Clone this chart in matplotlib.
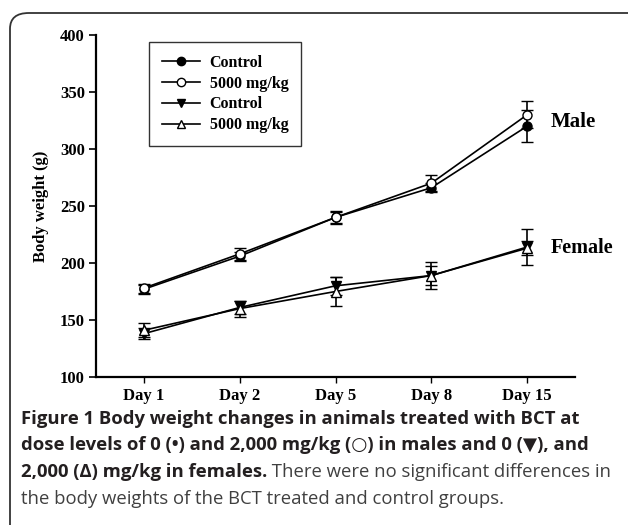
import matplotlib
matplotlib.use('Agg')
import matplotlib.pyplot as plt
from matplotlib.patches import FancyBboxPatch
from matplotlib.lines import Line2D

# data
days = ['Day 1', 'Day 2', 'Day 5', 'Day 8', 'Day 15']
male_ctrl = [177, 206, 240, 266, 320]
male_ctrl_err = [4, 4, 5, 4, 14]
male_hi = [178, 208, 240, 270, 330]
male_hi_err = [4, 5, 6, 7, 12]
fem_ctrl = [138, 161, 180, 189, 214]
fem_ctrl_err = [5, 6, 8, 12, 16]
fem_hi = [141, 160, 175, 189, 213]
fem_hi_err = [6, 7, 13, 8, 6]
labels = ['Control', '5000 mg/kg', 'Control', '5000 mg/kg']

caption = [
    [("Figure 1 Body weight changes in animals treated with BCT at", 'bold')],
    [("dose levels of 0 (\u2022) and 2,000 mg/kg (\u25cb) in males and 0 (\u25bc), and", 'bold')],
    [("2,000 (\u0394) mg/kg in females.", 'bold'),
     (" There were no significant differences in", 'normal')],
    [("the body weights of the BCT treated and control groups.", 'normal')],
]

W, H = 628, 525
fig = plt.figure(figsize=(W / 100, H / 100), dpi=100)

# rounded frame around the figure (cut off at right/bottom)
frame = FancyBboxPatch((10 / W, -0.2), 1.2, 1.2 - 13 / H,
                       boxstyle='round,pad=0,rounding_size=0.03',
                       transform=fig.transFigure, fill=False,
                       edgecolor='#333333', linewidth=1.3)
fig.patches.append(frame)

ax = fig.add_axes([96 / W, 1 - 377 / H, (575 - 96) / W, (377 - 35) / H])
serif = 'Liberation Serif'
x = range(len(days))

series = [
    (male_ctrl, male_ctrl_err, 'o', 'black'),
    (male_hi, male_hi_err, 'o', 'white'),
    (fem_ctrl, fem_ctrl_err, 'v', 'black'),
    (fem_hi, fem_hi_err, '^', 'white'),
]
handles = []
for vals, errs, mk, fc in series:
    ax.errorbar(x, vals, yerr=errs, color='black', lw=1.2, elinewidth=1.2,
                capsize=4.5, capthick=1.2, marker=mk, markersize=6.5,
                markerfacecolor=fc, markeredgecolor='black',
                markeredgewidth=1.0)
    handles.append(Line2D([], [], color='black', lw=1.2, marker=mk,
                          markersize=6, markerfacecolor=fc,
                          markeredgecolor='black', markeredgewidth=1.0))

ax.set_xlim(-0.5, 4.5)
ax.set_ylim(100, 400)
ax.set_xticks(list(x))
ax.set_xticklabels(days)
ax.set_yticks([100, 150, 200, 250, 300, 350, 400])
for s in ['top', 'right']:
    ax.spines[s].set_visible(False)
for s in ['left', 'bottom']:
    ax.spines[s].set_linewidth(1.6)
ax.tick_params(axis='y', length=5, width=1.2, pad=3)
ax.tick_params(axis='x', length=4, width=1.0, pad=4)
for t in ax.get_xticklabels() + ax.get_yticklabels():
    t.set_fontfamily(serif)
    t.set_fontweight('bold')
    t.set_fontsize(12)
ax.set_ylabel('Body weight (g)', fontfamily=serif, fontweight='bold',
              fontsize=12, labelpad=8)

ax.text(4.25, 324, 'Male', fontfamily=serif, fontweight='bold', fontsize=15,
        va='center', ha='left')
ax.text(4.25, 213, 'Female', fontfamily=serif, fontweight='bold', fontsize=14.5,
        va='center', ha='left')

leg = ax.legend(handles=handles, labels=labels, loc='upper left',
                bbox_to_anchor=(149 / W, 1 - 42 / H),
                bbox_transform=fig.transFigure, borderaxespad=0,
                prop={'family': serif, 'weight': 'bold', 'size': 11.5},
                handlelength=2.4, handletextpad=0.6, labelspacing=0.3,
                borderpad=0.8, fancybox=False, framealpha=1)
leg.get_frame().set_edgecolor('#333333')
leg.get_frame().set_linewidth(1.0)

# caption with mixed weights; font size chosen so the widest line fits
renderer = fig.canvas.get_renderer()
fams = ['Open Sans', 'DejaVu Sans']


def line_width(pieces, size):
    total = 0
    for txt, wt in pieces:
        p = fig.text(0, 0, txt, family=fams, fontweight=wt, fontsize=size)
        total += p.get_window_extent(renderer).width
        p.remove()
    return total


widest = max(line_width(p, 14) for p in caption)
fs = 14 * 592 / widest

x0 = 21
base = 424
for i, pieces in enumerate(caption):
    xp = x0
    for txt, wt in pieces:
        t = fig.text(xp / W, 1 - (base + i * 26.5) / H, txt, family=fams,
                     fontweight=wt, fontsize=fs, va='baseline', ha='left',
                     color='#231f20' if wt == 'bold' else '#404040')
        xp += t.get_window_extent(renderer).width

fig.savefig('out.png', dpi=100)
